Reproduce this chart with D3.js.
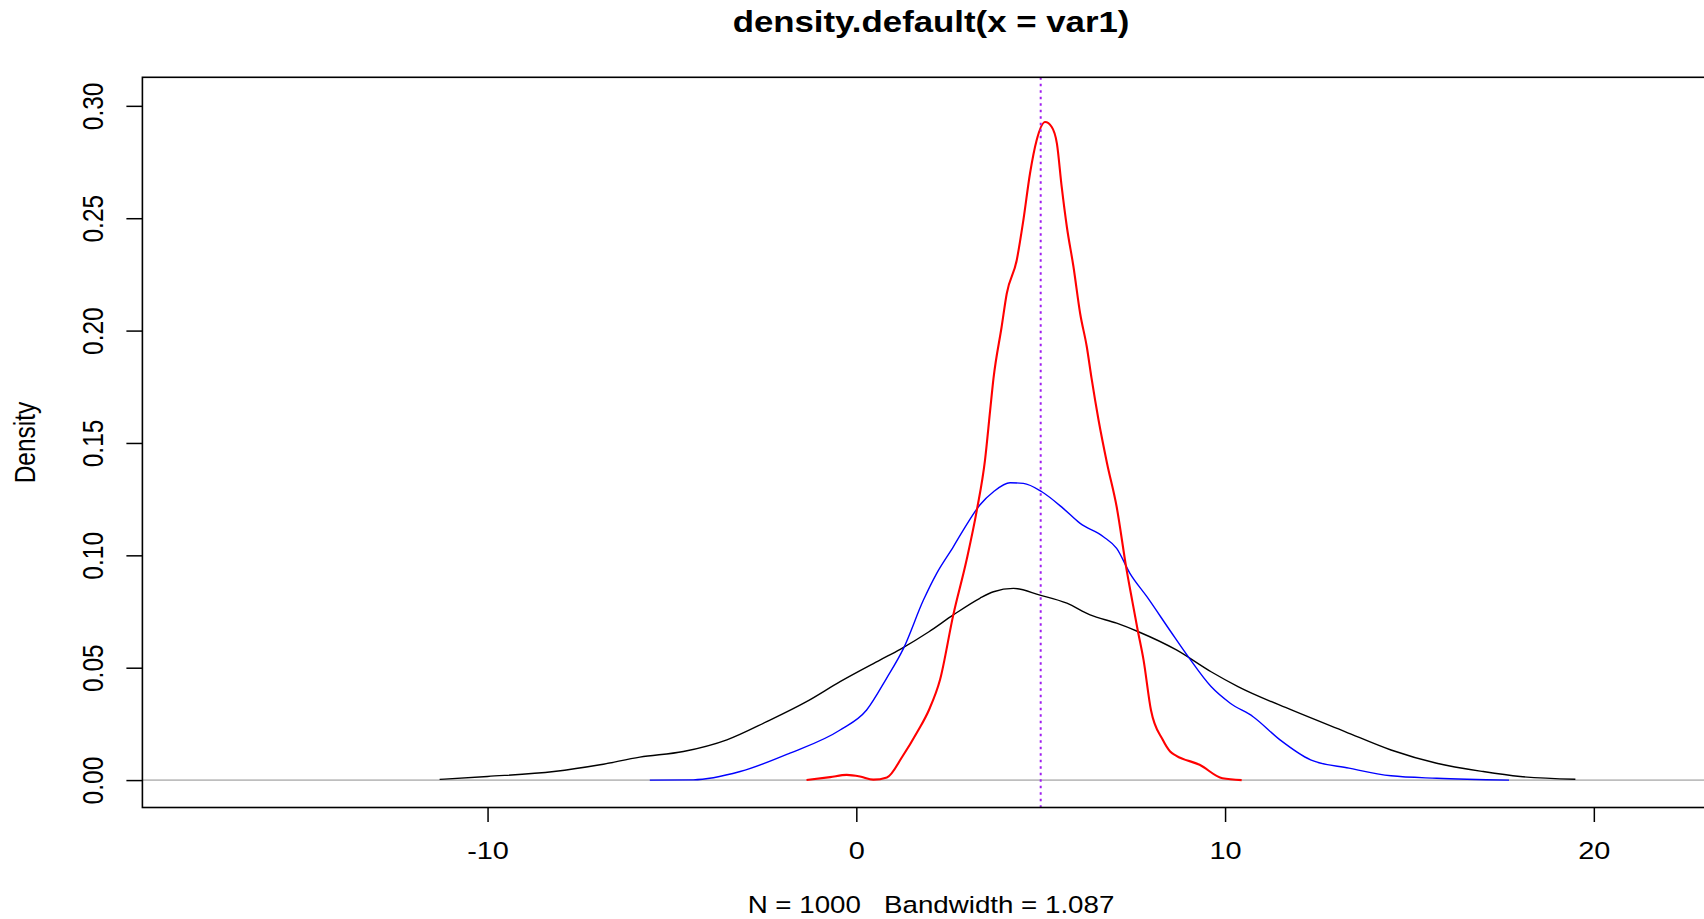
<!DOCTYPE html>
<html>
<head>
<meta charset="utf-8">
<script src="https://cdn.jsdelivr.net/npm/d3@7"></script>
<style>
  body { margin: 0; background: #fff; }
  svg { display: block; font-family: "Liberation Sans", Arial, sans-serif; }
</style>
</head>
<body>
<div class="chart"></div>
<script>
const W = 1704, H = 919;
// plot box in page pixels (right edge runs off the page like the original)
const box = { left: 142.4, top: 77.3, right: 1724, bottom: 807.5 };
const stretch = 1.18; // the original picture is widened a bit, text included

const xTicks = [-10, 0, 10, 20];
const yTicks = [0, 0.05, 0.10, 0.15, 0.20, 0.25, 0.30];
const yTickLabels = ["0.00", "0.05", "0.10", "0.15", "0.20", "0.25", "0.30"];
const meanLine = 5;

const blackX = [-11.3, -10.0, -8.2, -6.95, -5.87, -4.69, -3.51, -2.43, -1.35, -0.44, 0.64, 1.19, 1.97, 2.63, 3.35, 3.72, 4.26, 4.98, 5.71, 6.34, 7.06, 7.65, 8.68, 9.62, 10.35, 11.8, 13.25, 14.5, 15.74, 17.0, 18.0, 19.5];
const blackY = [0.0003, 0.0016, 0.0038, 0.0068, 0.0102, 0.0127, 0.0179, 0.026, 0.0349, 0.0438, 0.0534, 0.0582, 0.066, 0.0735, 0.0809, 0.0838, 0.0853, 0.0823, 0.0787, 0.0735, 0.0698, 0.066, 0.0579, 0.0482, 0.0416, 0.0312, 0.0216, 0.0134, 0.0075, 0.0038, 0.0016, 0.0004];

const blueX = [-5.6, -4.42, -3.15, -1.8, -0.44, 0.28, 0.82, 1.28, 1.82, 2.18, 2.63, 2.9, 3.35, 3.72, 4.17, 4.53, 5.03, 5.61, 6.07, 6.7, 7.06, 7.42, 7.88, 8.53, 9.0, 9.62, 10.14, 10.76, 11.49, 12.32, 13.36, 14.5, 15.74, 17.7];
const blueY = [0.0, 0.0001, 0.0038, 0.012, 0.0223, 0.0312, 0.0453, 0.0586, 0.0801, 0.092, 0.1038, 0.1112, 0.1224, 0.1283, 0.1323, 0.132, 0.1283, 0.1209, 0.1142, 0.1083, 0.1031, 0.092, 0.0816, 0.066, 0.0549, 0.0416, 0.0342, 0.0282, 0.0179, 0.009, 0.0053, 0.0019, 0.0008, 0.0];

const redX = [-1.35, -0.71, -0.26, 0.1, 0.46, 0.83, 1.25, 1.66, 1.97, 2.27, 2.63, 2.99, 3.27, 3.49, 3.63, 3.72, 3.94, 4.08, 4.35, 4.53, 4.71, 4.89, 5.12, 5.3, 5.44, 5.57, 5.71, 5.89, 6.07, 6.25, 6.38, 6.57, 6.8, 7.06, 7.33, 7.48, 7.63, 7.79, 7.99, 8.31, 8.51, 8.68, 9.31, 9.93, 10.45];
const redY = [0.0, 0.0013, 0.0023, 0.0016, 0.0002, 0.0012, 0.0105, 0.0216, 0.0312, 0.0446, 0.0735, 0.0979, 0.1202, 0.1424, 0.1646, 0.1787, 0.2016, 0.2165, 0.2313, 0.2491, 0.2699, 0.2847, 0.2928, 0.2906, 0.2832, 0.2639, 0.2461, 0.2283, 0.2076, 0.1928, 0.1787, 0.1601, 0.1409, 0.1216, 0.0935, 0.08, 0.0668, 0.0534, 0.0312, 0.0179, 0.0127, 0.0108, 0.0068, 0.0008, 0.0];

const svg = d3.select(".chart")
  .append("svg")
  .attr("width", W)
  .attr("height", H);

const x = d3.scaleLinear().domain([-19.36, 23.53]).range([box.left, box.right]);
const y = d3.scaleLinear().domain([-0.0122, 0.3127]).range([box.bottom, box.top]);

// zero reference line
svg.append("line")
  .attr("x1", box.left).attr("x2", box.right)
  .attr("y1", y(0)).attr("y2", y(0))
  .attr("stroke", "#bebebe")
  .attr("stroke-width", 1.6);

const line = d3.line()
  .x(d => x(d[0]))
  .y(d => y(d[1]))
  .curve(d3.curveMonotoneX);

const series = [
  { xs: blackX, ys: blackY, color: "#000000", w: 1.4 },
  { xs: blueX, ys: blueY, color: "#0000ff", w: 1.4 },
  { xs: redX, ys: redY, color: "#ff0000", w: 2.1 }
];

series.forEach(s => {
  svg.append("path")
    .datum(d3.zip(s.xs, s.ys))
    .attr("fill", "none")
    .attr("stroke", s.color)
    .attr("stroke-width", s.w)
    .attr("stroke-linejoin", "round")
    .attr("d", line);
});

// dotted vertical line
svg.append("line")
  .attr("x1", x(meanLine)).attr("x2", x(meanLine))
  .attr("y1", box.top).attr("y2", box.bottom)
  .attr("stroke", "#a020f0")
  .attr("stroke-width", 2)
  .attr("stroke-dasharray", "2.5,4");

// box
svg.append("rect")
  .attr("x", box.left).attr("y", box.top)
  .attr("width", box.right - box.left)
  .attr("height", box.bottom - box.top)
  .attr("fill", "none")
  .attr("stroke", "#000")
  .attr("stroke-width", 1.6);

const xAxis = d3.axisBottom(x)
  .tickValues(xTicks)
  .tickSize(14.5)
  .tickFormat(d => String(d));

const gx = svg.append("g")
  .attr("transform", `translate(0,${box.bottom})`)
  .call(xAxis);

gx.select(".domain").remove();
gx.selectAll(".tick line").attr("stroke", "#000").attr("stroke-width", 1.5);
gx.selectAll(".tick text")
  .attr("y", 0)
  .attr("dy", null)
  .attr("fill", "#000")
  .attr("font-size", 24.5)
  .attr("font-family", null)
  .attr("transform", `translate(0,51.5) scale(${stretch},1)`);

const yAxis = d3.axisLeft(y)
  .tickValues(yTicks)
  .tickSize(16)
  .tickFormat((d, i) => yTickLabels[i]);

const gy = svg.append("g")
  .attr("transform", `translate(${box.left},0)`)
  .call(yAxis);

gy.select(".domain").remove();
gy.selectAll(".tick line").attr("stroke", "#000").attr("stroke-width", 1.5);
gy.selectAll(".tick text")
  .attr("x", 0)
  .attr("dy", null)
  .attr("fill", "#000")
  .attr("font-size", 24.5)
  .attr("font-family", null)
  .attr("text-anchor", "middle")
  .attr("transform", `translate(-39.1,0) scale(${stretch},1) rotate(-90)`);

// titles
svg.append("text")
  .attr("text-anchor", "middle")
  .attr("font-size", 29.5)
  .attr("font-weight", "bold")
  .attr("transform", `translate(931,32) scale(${stretch},1)`)
  .text("density.default(x = var1)");

svg.append("text")
  .attr("text-anchor", "middle")
  .attr("font-size", 23.5)
  .style("white-space", "pre")
  .attr("transform", `translate(931,913) scale(${stretch},1)`)
  .text("N = 1000   Bandwidth = 1.087");

svg.append("text")
  .attr("text-anchor", "middle")
  .attr("font-size", 24.5)
  .attr("transform", `translate(35.2,442.5) scale(${stretch},1) rotate(-90)`)
  .text("Density");
</script>
</body>
</html>
